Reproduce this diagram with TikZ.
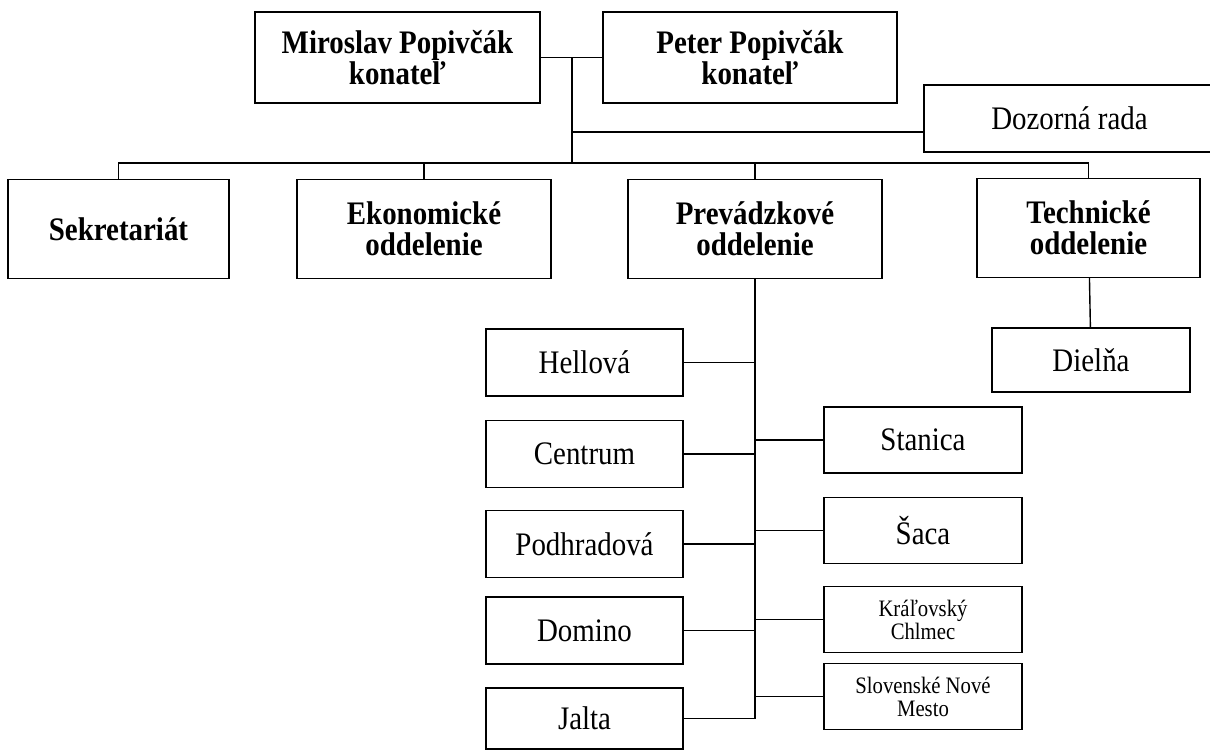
\documentclass[tikz,border=0pt]{standalone}
\usepackage{fontspec}
\setmainfont[FakeStretch=0.88]{Liberation Serif}
\begin{document}
\begin{tikzpicture}
  [x=0.02cm,y=-0.02cm,line width=0.8pt,
   every node/.style={draw,rectangle,align=center,inner sep=2pt,font=\fontsize{18.7}{17.4}\selectfont}]
  \tikzstyle{head} = [font=\fontsize{18.7}{17.4}\selectfont\bfseries]
  \tikzstyle{dept} = [head,minimum width=5.08cm,minimum height=1.98cm]
  \tikzstyle{left} = [minimum width=3.94cm,minimum height=1.34cm]
  \tikzstyle{right} = [minimum width=3.96cm,minimum height=1.32cm]
  \tikzstyle{small} = [font=\fontsize{13.4}{13}\selectfont]
  \useasboundingbox (0,0) rectangle (1210,751);

  \node[head,minimum width=5.7cm,minimum height=1.82cm] (mir) at (397.5,57.5) {Miroslav Popivčák\\konateľ};
  \node[head,minimum width=5.88cm,minimum height=1.82cm] (pet) at (750,57.5) {Peter Popivčák\\konateľ};
  \node[minimum width=5.82cm,minimum height=1.34cm] (doz) at (1069.5,118.5) {Dozorná rada};

  \node[dept,minimum width=4.42cm] (sek) at (118.5,229) {Sekretariát};
  \node[dept] (eko) at (424,229) {Ekonomické\\oddelenie};
  \node[dept] (prev) at (755,229) {Prevádzkové\\oddelenie};
  \node[dept,minimum width=4.46cm] (tech) at (1088.5,228) {Technické\\oddelenie};
  \node[minimum width=3.96cm,minimum height=1.28cm] (die) at (1091,360) {Dielňa};

  \node[left] (hel) at (584.5,362.5) {Hellová};
  \node[left] (cen) at (584.5,454) {Centrum};
  \node[left] (pod) at (584.5,544) {Podhradová};
  \node[left] (dom) at (584.5,630.5) {Domino};
  \node[left,minimum height=1.22cm] (jal) at (584.5,718.5) {Jalta};

  \node[right] (sta) at (923,440) {Stanica};
  \node[right] (sac) at (923,530.5) {Šaca};
  \node[right,small] (kra) at (923,619.5) {Kráľovský\\Chlmec};
  \node[right,small] (slo) at (923,696.5) {Slovenské Nové\\Mesto};

  \coordinate (joint) at (572,57.5);
  \coordinate (side) at (572,132);
  \coordinate (bus) at (572,163);

  \draw (mir) -- (pet);
  \draw (joint) -- (bus);
  \draw (side) -- (side -| doz.west);
  \draw (sek.north) -- (sek.north |- bus) -- (tech.north |- bus) -- (tech.north);
\foreach \dept in {eko,prev}
   \draw (\dept.north) -- (\dept.north |- bus);
  \draw (tech) -- (die);

  \draw (prev.south) -- (prev.south |- jal.east);
\foreach \branch in {hel,cen,pod,dom,jal}
   \draw (\branch.east) -- (\branch.east -| prev.south);
\foreach \branch in {sta,sac,kra,slo}
   \draw (\branch.west) -- (\branch.west -| prev.south);

  \end{tikzpicture}
\end{document}
